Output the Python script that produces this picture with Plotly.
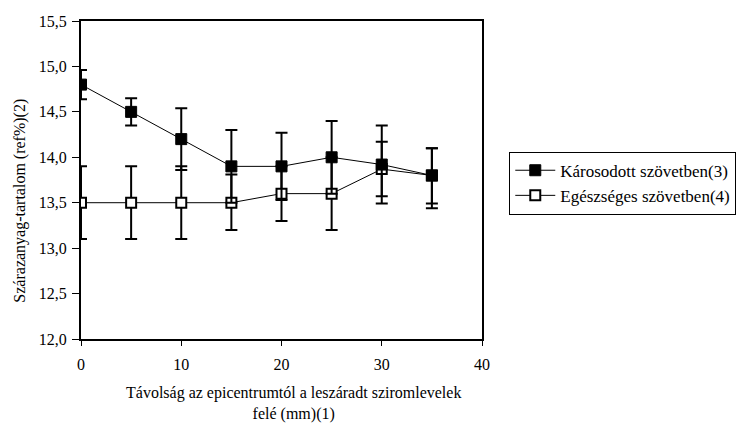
import plotly.graph_objects as go

distance = [0, 5, 10, 15, 20, 25, 30, 35]
damaged = [14.8, 14.5, 14.2, 13.9, 13.9, 14.0, 13.92, 13.8]
damaged_err_plus = [0.16, 0.15, 0.34, 0.4, 0.37, 0.4, 0.43, 0.3]
damaged_err_minus = [0.16, 0.15, 0.34, 0.4, 0.37, 0.4, 0.43, 0.31]
healthy = [13.5, 13.5, 13.5, 13.5, 13.6, 13.6, 13.87, 13.8]
healthy_err_plus = [0.4, 0.4, 0.4, 0.31, 0.3, 0.4, 0.3, 0.3]
healthy_err_minus = [0.4, 0.4, 0.4, 0.3, 0.3, 0.4, 0.3, 0.36]

name_damaged = "Károsodott szövetben(3)"
name_healthy = "Egészséges szövetben(4)"
x_title = "Távolság az epicentrumtól a leszáradt sziromlevelek<br>felé (mm)(1)"
y_title = "Szárazanyag-tartalom (ref%)(2)"

FONT = "Liberation Serif, Times New Roman, serif"
FS = 16

fig = go.Figure()
fig.add_trace(go.Scatter(
    x=distance, y=healthy, name=name_healthy, mode="lines+markers",
    legendgroup="h", legendrank=2,
    line=dict(color="black", width=1),
    marker=dict(symbol="square", size=10, color="white", line=dict(color="black", width=2)),
    error_y=dict(type="data", array=healthy_err_plus, arrayminus=healthy_err_minus,
                 color="black", thickness=2, width=6),
))
fig.add_trace(go.Scatter(
    x=distance, y=damaged, name=name_damaged, mode="lines+markers",
    legendgroup="d", legendrank=1,
    line=dict(color="black", width=1),
    marker=dict(symbol="square", size=11, color="black", line=dict(color="black", width=1)),
    error_y=dict(type="data", array=damaged_err_plus, arrayminus=damaged_err_minus,
                 color="black", thickness=2, width=6),
))

fig.update_layout(
    width=748, height=423,
    margin=dict(l=81, r=255, t=21, b=84),
    paper_bgcolor="white", plot_bgcolor="white",
    font=dict(family=FONT, size=FS, color="black"),
    separators=", ",
    showlegend=True,
    legend=dict(
        x=1.068, y=0.589, xanchor="left", yanchor="top",
        bordercolor="black", borderwidth=1, bgcolor="white",
        font=dict(family=FONT, size=17, color="black"),
        tracegroupgap=6, traceorder="normal", itemwidth=40,
    ),
    annotations=[
        dict(text=x_title, xref="paper", yref="paper", x=0.53, y=-0.203,
             xanchor="center", yanchor="middle", showarrow=False,
             font=dict(family=FONT, size=FS, color="black")),
        dict(text=y_title, xref="paper", yref="paper", x=-0.153, y=0.434,
             xanchor="center", yanchor="middle", showarrow=False, textangle=-90,
             font=dict(family=FONT, size=FS, color="black")),
    ],
)
fig.update_xaxes(
    range=[0, 40], tickvals=[0, 10, 20, 30, 40], tickformat="d",
    showgrid=False, zeroline=False,
    showline=True, linecolor="black", linewidth=2, mirror=True,
    ticks="outside", ticklen=5, tickcolor="black", tickwidth=1,
    ticklabelstandoff=5,
    tickfont=dict(family=FONT, size=FS),
)
fig.update_yaxes(
    range=[12.0, 15.5], dtick=0.5, tick0=12.0, tickformat=".1f",
    showgrid=False, zeroline=False,
    showline=True, linecolor="black", linewidth=2, mirror=True,
    ticks="outside", ticklen=7, tickcolor="black", tickwidth=1,
    ticklabelstandoff=2,
    tickfont=dict(family=FONT, size=FS),
)

fig.write_html("out.html")
